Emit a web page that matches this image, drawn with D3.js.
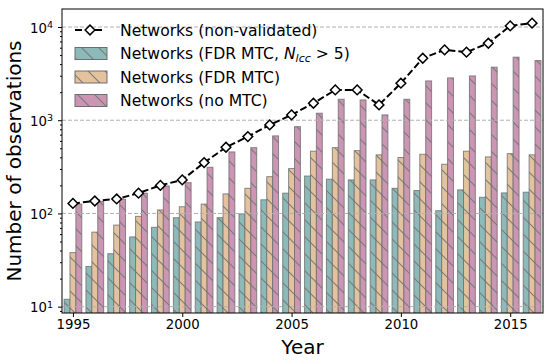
<!DOCTYPE html>
<html>
<head>
<meta charset="utf-8">
<script src="https://cdn.jsdelivr.net/npm/d3@7"></script>
<style>
body { margin: 0; background: #fff; }
text { font-family: "DejaVu Sans", sans-serif; }
</style>
</head>
<body>
<div id="chart"></div>
<script>
//Width and height
var w = 550;
var h = 361;

//Data
var years = [1995, 1996, 1997, 1998, 1999, 2000, 2001, 2002, 2003, 2004, 2005,
             2006, 2007, 2008, 2009, 2010, 2011, 2012, 2013, 2014, 2015, 2016];
var nonValidated = [128, 136, 143, 165, 200, 229, 351, 513, 667, 891, 1140,
                    1521, 2113, 2113, 1460, 2495, 4624, 5680, 5370, 6700, 10280, 11000];
var fdrLcc = [12, 27, 37, 56, 71, 90, 81, 90, 99, 140, 165,
              252, 233, 229, 229, 186, 176, 107, 179, 149, 166, 169];
var fdr = [38, 63, 75, 93, 109, 118, 126, 162, 186, 248, 303,
           465, 508, 472, 425, 398, 431, 337, 465, 404, 438, 425];
var noMtc = [126, 134, 142, 165, 197, 214, 313, 457, 508, 679, 853,
             1189, 1679, 1651, 1140, 1679, 2640, 2844, 2987, 3707, 4745, 4366];
var xTicks = [1995, 2000, 2005, 2010, 2015];
var yTicks = [10, 100, 1000, 10000];

var barSeries = [
    {name: "lcc", values: fdrLcc, color: "#8cbab9", offset: -1},
    {name: "fdr", values: fdr, color: "#e4c29e", offset: 0},
    {name: "nomtc", values: noMtc, color: "#cc95b4", offset: 1}
];

var pLeft = 62, pRight = 543, pTop = 9, pBottom = 313;

var x = d3.scaleLinear().domain([1994.5, 2016.5]).range([pLeft, pRight]);
var y = d3.scaleLog().domain([8.55, 15600]).range([pBottom, pTop]);

var svg = d3.select("#chart")
    .append("svg")
    .attr("width", w)
    .attr("height", h);

//Hatch patterns
var defs = svg.append("defs");
barSeries.forEach(function(s) {
    var p = defs.append("pattern")
        .attr("id", "hatch-" + s.name)
        .attr("patternUnits", "userSpaceOnUse")
        .attr("width", 17)
        .attr("height", 17);
    p.append("rect").attr("width", 17).attr("height", 17).attr("fill", s.color);
    [[0, 0, 17, 17], [-2, 15, 2, 19], [15, -2, 19, 2]].forEach(function(l) {
        p.append("line")
            .attr("x1", l[0]).attr("y1", l[1]).attr("x2", l[2]).attr("y2", l[3])
            .attr("stroke", "#7a7a7a")
            .attr("stroke-width", 1.1);
    });
});

svg.append("clipPath").attr("id", "plotclip")
    .append("rect").attr("x", pLeft).attr("y", pTop)
    .attr("width", pRight - pLeft).attr("height", pBottom - pTop);

var plot = svg.append("g").attr("clip-path", "url(#plotclip)");

//Bars
var bw = 0.27;
barSeries.forEach(function(s) {
    plot.selectAll(".bar-" + s.name)
        .data(s.values)
        .enter()
        .append("rect")
        .attr("x", function(d, i) { return x(years[i] + s.offset * bw - bw / 2); })
        .attr("width", x(bw) - x(0))
        .attr("y", function(d) { return y(d); })
        .attr("height", function(d) { return pBottom + 2 - y(d); })
        .attr("fill", "url(#hatch-" + s.name + ")")
        .attr("stroke", "#6e6e6e")
        .attr("stroke-opacity", 0.8)
        .attr("stroke-width", 1);
});

//Grid lines
plot.selectAll(".grid")
    .data(yTicks)
    .enter()
    .append("line")
    .attr("x1", pLeft).attr("x2", pRight)
    .attr("y1", function(d) { return y(d); })
    .attr("y2", function(d) { return y(d); })
    .attr("stroke", "#b0b0b0")
    .attr("stroke-width", 1)
    .attr("stroke-dasharray", "4,2");

//Line
var line = d3.line()
    .x(function(d, i) { return x(years[i]); })
    .y(function(d) { return y(d); });

plot.append("path")
    .datum(nonValidated)
    .attr("d", line)
    .attr("fill", "none")
    .attr("stroke", "#000")
    .attr("stroke-width", 2)
    .attr("stroke-dasharray", "7,3");

var diamond = d3.symbol().type(d3.symbolDiamond2).size(60);
plot.selectAll(".marker")
    .data(nonValidated)
    .enter()
    .append("path")
    .attr("d", diamond)
    .attr("transform", function(d, i) { return "translate(" + x(years[i]) + "," + y(d) + ")"; })
    .attr("fill", "#fff")
    .attr("stroke", "#000")
    .attr("stroke-width", 1.5);

//Frame
svg.append("rect")
    .attr("x", pLeft).attr("y", pTop)
    .attr("width", pRight - pLeft).attr("height", pBottom - pTop)
    .attr("fill", "none")
    .attr("stroke", "#000")
    .attr("stroke-width", 1);

//X axis
var xAxis = d3.axisBottom(x).tickValues(xTicks).tickFormat(d3.format("d")).tickSize(4).tickPadding(3);
var gx = svg.append("g").attr("transform", "translate(0," + pBottom + ")").call(xAxis);
gx.select(".domain").remove();
gx.selectAll("text").attr("font-size", 13.3).attr("fill", "#000").attr("font-family", "DejaVu Sans");

//Y axis, major and minor ticks
var minor = [];
[1, 10, 100, 1000, 10000].forEach(function(base) {
    for (var k = 2; k <= 9; k++) {
        var v = base * k;
        if (v >= 8.55 && v <= 15600) minor.push(v);
    }
});
var gyMinor = svg.append("g").attr("transform", "translate(" + pLeft + ",0)")
    .call(d3.axisLeft(y).tickValues(minor).tickFormat("").tickSize(2));
gyMinor.select(".domain").remove();

var gy = svg.append("g").attr("transform", "translate(" + pLeft + ",0)")
    .call(d3.axisLeft(y).tickValues(yTicks).tickFormat("").tickSize(4));
gy.select(".domain").remove();

gy.selectAll(".tick").each(function(d) {
    var t = d3.select(this).append("text")
        .attr("x", -9)
        .attr("dy", "0.4em")
        .attr("text-anchor", "end")
        .attr("fill", "#000")
        .attr("font-size", 13.3);
    t.append("tspan").text("10");
    t.append("tspan").attr("dy", "-0.5em").attr("font-size", 9.5).text(Math.round(Math.log10(d)));
});

//Axis labels
svg.append("text")
    .attr("x", (pLeft + pRight) / 2)
    .attr("y", 354)
    .attr("text-anchor", "middle")
    .attr("font-size", 20)
    .text("Year");

svg.append("text")
    .attr("transform", "translate(21," + ((pTop + pBottom) / 2) + ") rotate(-90)")
    .attr("text-anchor", "middle")
    .attr("font-size", 20)
    .text("Number of observations");

//Legend
var lg = svg.append("g");
var rowY = [30, 53.5, 77, 100.5];
lg.append("line")
    .attr("x1", 75).attr("x2", 105).attr("y1", rowY[0]).attr("y2", rowY[0])
    .attr("stroke", "#000").attr("stroke-width", 2).attr("stroke-dasharray", "7,3");
lg.append("path")
    .attr("d", diamond)
    .attr("transform", "translate(90," + rowY[0] + ")")
    .attr("fill", "#fff").attr("stroke", "#000").attr("stroke-width", 1.5);

barSeries.forEach(function(s, i) {
    lg.append("rect")
        .attr("x", 75).attr("y", rowY[i + 1] - 6)
        .attr("width", 32).attr("height", 12)
        .attr("fill", "url(#hatch-" + s.name + ")")
        .attr("stroke", "#6e6e6e")
        .attr("stroke-width", 1);
});

var labels = lg.selectAll(".lab")
    .data(rowY)
    .enter()
    .append("text")
    .attr("x", 120)
    .attr("y", function(d) { return d + 5.5; })
    .attr("font-size", 15.6);

labels.filter(function(d, i) { return i == 0; }).text("Networks (non-validated)");
var l1 = labels.filter(function(d, i) { return i == 1; });
l1.append("tspan").text("Networks (FDR MTC, ");
l1.append("tspan").attr("font-style", "italic").text("N");
l1.append("tspan").attr("font-style", "italic").attr("font-size", 11).attr("dy", 3).text("lcc");
l1.append("tspan").attr("dy", -3).text(" > 5)");
labels.filter(function(d, i) { return i == 2; }).text("Networks (FDR MTC)");
labels.filter(function(d, i) { return i == 3; }).text("Networks (no MTC)");
</script>
</body>
</html>
